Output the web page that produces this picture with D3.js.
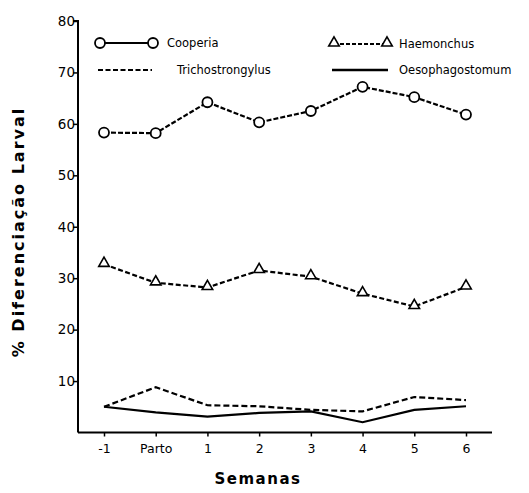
<!DOCTYPE html>
<html>
<head>
<meta charset="utf-8">
<script src="https://cdn.jsdelivr.net/npm/d3@7"></script>
<style>
  body { margin: 0; background: #fff; }
  text { font-family: 'DejaVu Sans', sans-serif; fill: #000; }
</style>
</head>
<body>
<div id="chart"></div>
<script>
let weeks = ['-1', 'Parto', '1', '2', '3', '4', '5', '6']
let cooperia = [58.3, 58.2, 64.2, 60.3, 62.5, 67.2, 65.2, 61.8]
let haemonchus = [32.7, 29.1, 28.2, 31.5, 30.3, 27.0, 24.5, 28.3]
let trichostrongylus = [5.0, 8.8, 5.3, 5.1, 4.4, 4.1, 6.9, 6.3]
let oesophagostomum = [5.0, 3.9, 3.1, 3.8, 4.1, 2.0, 4.4, 5.1]
let yTicks = [10, 20, 30, 40, 50, 60, 70, 80]

let width = 529
let height = 493
let margin = { top: 21, left: 78, right: 37, bottom: 60 }

let svg = d3.select('#chart')
  .append('svg')
  .attr('width', width)
  .attr('height', height)

let xScale = d3.scalePoint()
  .domain(weeks)
  .range([104, 466])

let yScale = d3.scaleLinear()
  .domain([0, 80])
  .range([height - margin.bottom - 0.5, margin.top])

// axes
let yAxis = d3.axisLeft(yScale).tickValues(yTicks).tickSize(5).tickFormat(d3.format('d'))
svg.append('g')
  .attr('transform', `translate(${margin.left},0)`)
  .call(yAxis)
  .call(g => g.select('.domain').attr('stroke-width', 2).attr('d', `M-5,${yScale(80)}H0V${yScale(0)}`))
  .call(g => g.selectAll('.tick line').attr('stroke-width', 1.5))
  .call(g => g.selectAll('.tick text').attr('font-size', 13.5).attr('x', -3).attr('font-family', 'DejaVu Sans'))

let xAxis = d3.axisBottom(xScale).tickSize(4).tickPadding(8)
svg.append('g')
  .attr('transform', `translate(0,${yScale(0)})`)
  .call(xAxis)
  .call(g => g.select('.domain').attr('stroke-width', 2).attr('d', `M${margin.left},0H${width - margin.right}`))
  .call(g => g.selectAll('.tick line').attr('stroke-width', 1.5))
  .call(g => g.selectAll('.tick text').attr('font-size', 12.5).attr('font-family', 'DejaVu Sans'))

// lines
let line = d3.line()
  .x((d, i) => xScale(weeks[i]))
  .y(d => yScale(d))

let series = [
  { values: cooperia, dash: '5,2', width: 2.2 },
  { values: haemonchus, dash: '5,2.5', width: 2.2 },
  { values: trichostrongylus, dash: '6,3', width: 2.2 },
  { values: oesophagostomum, dash: null, width: 2.2 }
]

series.forEach(s => {
  svg.append('path')
    .datum(s.values)
    .attr('d', line)
    .attr('fill', 'none')
    .attr('stroke', '#000')
    .attr('stroke-width', s.width)
    .attr('stroke-dasharray', s.dash)
})

svg.selectAll('.coop')
  .data(cooperia)
  .enter()
  .append('circle')
  .attr('cx', (d, i) => xScale(weeks[i]))
  .attr('cy', d => yScale(d))
  .attr('r', 5)
  .attr('fill', '#fff')
  .attr('stroke', '#000')
  .attr('stroke-width', 1.8)

let tri = d3.symbol().type(d3.symbolTriangle).size(48)

svg.selectAll('.haem')
  .data(haemonchus)
  .enter()
  .append('path')
  .attr('d', tri)
  .attr('transform', (d, i) => `translate(${xScale(weeks[i])},${yScale(d) - 1})`)
  .attr('fill', '#fff')
  .attr('stroke', '#000')
  .attr('stroke-width', 1.6)

// legend
let leg = svg.append('g')

leg.append('line').attr('x1', 100).attr('x2', 153).attr('y1', 43).attr('y2', 43)
  .attr('stroke', '#000').attr('stroke-width', 2)
;[100, 153].forEach(x => {
  leg.append('circle').attr('cx', x).attr('cy', 43).attr('r', 5)
    .attr('fill', '#fff').attr('stroke', '#000').attr('stroke-width', 1.8)
})
leg.append('text').attr('x', 167).attr('y', 47).attr('font-size', 11.5).text('Cooperia')

leg.append('line').attr('x1', 98).attr('x2', 152).attr('y1', 70).attr('y2', 70)
  .attr('stroke', '#000').attr('stroke-width', 2.2).attr('stroke-dasharray', '5,2.5')
leg.append('text').attr('x', 177).attr('y', 74).attr('font-size', 11.5).text('Trichostrongylus')

leg.append('line').attr('x1', 334).attr('x2', 387).attr('y1', 44).attr('y2', 44)
  .attr('stroke', '#000').attr('stroke-width', 2).attr('stroke-dasharray', '4,2')
;[334, 387].forEach(x => {
  leg.append('path').attr('d', tri).attr('transform', `translate(${x},43)`)
    .attr('fill', '#fff').attr('stroke', '#000').attr('stroke-width', 1.6)
})
leg.append('text').attr('x', 399).attr('y', 48).attr('font-size', 11.5).text('Haemonchus')

leg.append('line').attr('x1', 332).attr('x2', 388).attr('y1', 70).attr('y2', 70)
  .attr('stroke', '#000').attr('stroke-width', 2.4)
leg.append('text').attr('x', 399).attr('y', 74).attr('font-size', 11.5).text('Oesophagostomum')

// axis titles
svg.append('text')
  .attr('transform', `translate(24,232) rotate(-90)`)
  .attr('text-anchor', 'middle')
  .attr('font-size', 16)
  .attr('font-weight', 'bold')
  .attr('letter-spacing', 2)
  .text('%  Diferenciação  Larval')

svg.append('text')
  .attr('x', 258)
  .attr('y', 484)
  .attr('text-anchor', 'middle')
  .attr('font-size', 15)
  .attr('font-weight', 'bold')
  .attr('letter-spacing', 1.5)
  .text('Semanas')
</script>
</body>
</html>
